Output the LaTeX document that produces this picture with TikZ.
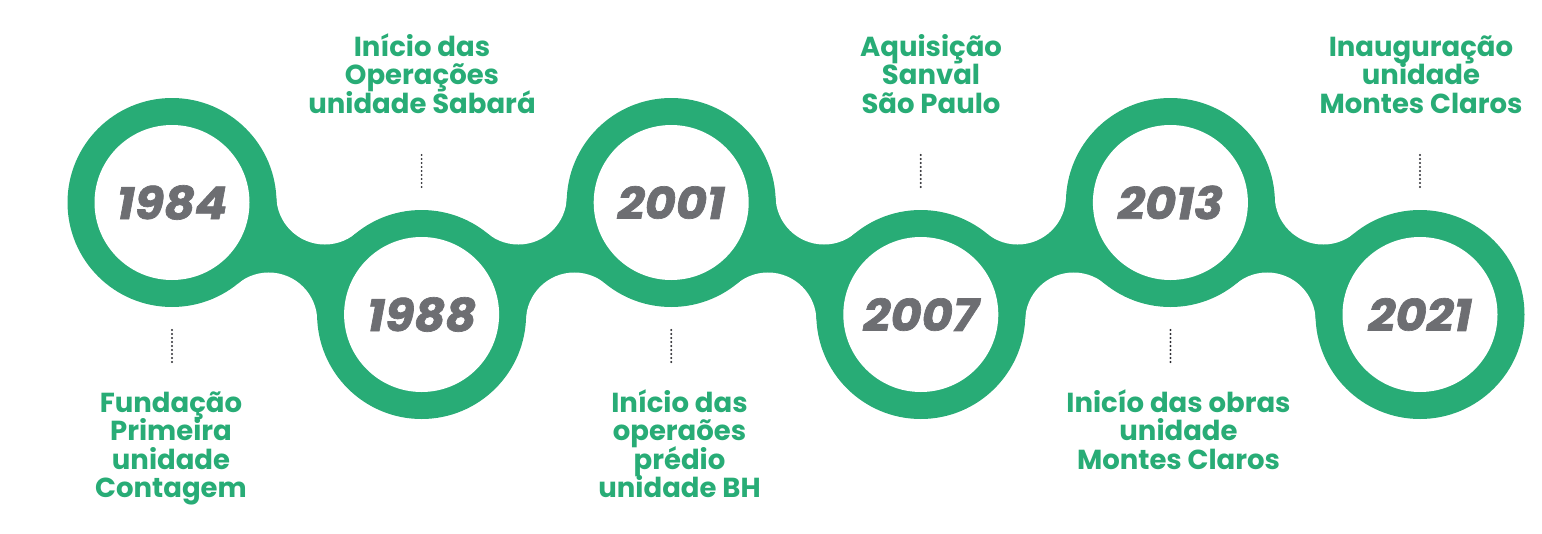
\documentclass[tikz,border=0pt]{standalone}
\usepackage{fontspec}
\setmainfont{Poppins}
\newfontfamily\yearfont{Poppins}[BoldItalicFeatures={FakeBold=1.5,FakeStretch=1.06}]
\usetikzlibrary{calc}
\definecolor{tlgreen}{RGB}{40,172,118}
\definecolor{tlgray}{RGB}{109,110,114}
\definecolor{dotgray}{RGB}{45,45,50}
\newcommand\evtfont{\fontsize{27.5}{28.5}\selectfont\bfseries\lineskiplimit -50pt\relax}
\begin{document}
\begin{tikzpicture}[x=1pt,y=1pt,
  year/.style={font=\yearfont\fontsize{45}{45}\selectfont\bfseries\itshape, text=tlgray, inner sep=0pt},
  evtlabel/.style={font=\evtfont, text=tlgreen, align=center, inner sep=0pt, anchor=base},
  dots/.style={draw=dotgray, line width=2.2pt, line cap=round, dash pattern=on 0pt off 4pt}
]
\useasboundingbox (0,0) rectangle (1542,-533);
\coordinate (c1) at (172,-202.5);
\coordinate (c2) at (421.6,-314.5);
\coordinate (c3) at (671.2,-202.5);
\coordinate (c4) at (920.8,-314.5);
\coordinate (c5) at (1170.4,-202.5);
\coordinate (c6) at (1420,-314.5);
% connecting bands
\foreach \a/\b in {c1/c2,c2/c3,c3/c4,c4/c5,c5/c6} {
  \coordinate (m-\a) at ($(\a)!0.5!(\b)$);
  \coordinate (fu-\a) at ($(m-\a)!68.5pt!90:(\b)$);
  \coordinate (fl-\a) at ($(m-\a)!68.5pt!-90:(\b)$);
  \fill[tlgreen] (\a) -- (fu-\a) -- (\b) -- (fl-\a) -- cycle;
  \fill[white] (fu-\a) circle[radius=48.5] (fl-\a) circle[radius=48.5];
}
% rings and years
\foreach \c/\y in {c1/1984,c2/1988,c3/2001,c4/2007,c5/2013,c6/2021} {
  \fill[tlgreen] (\c) circle[radius=104.5];
  \fill[white] (\c) circle[radius=77.5];
  \node[year] (y-\c) at (\c) {\y};
}
% dotted leaders
\foreach \c in {c2,c4,c6} {
  \coordinate (da-\c) at ($(\c)+(0,159.5)$);
  \coordinate (db-\c) at ($(\c)+(0,127.5)$);
  \draw[dots] (da-\c) -- (db-\c);
}
\foreach \c in {c1,c3,c5} {
  \coordinate (da-\c) at ($(\c)+(0,-127.5)$);
  \coordinate (db-\c) at ($(\c)+(0,-159.5)$);
  \draw[dots] (da-\c) -- (db-\c);
}
% labels (base anchor = baseline of the last line)
\node[evtlabel] (t2) at (422,-113) {Início das\\Operações\\unidade Sabará};
\node[evtlabel] (t4) at (931,-113) {Aquisição\\Sanval\\São Paulo};
\node[evtlabel] (t6) at (1421,-113) {Inauguração\\unidade\\Montes Claros};
\node[evtlabel] (t1) at (171,-497.5) {Fundação\\Primeira\\unidade\\Contagem};
\node[evtlabel] (t3) at (679.5,-497.5) {Início das\\operaões\\prédio\\unidade BH};
\node[evtlabel] (t5) at (1178.5,-469) {Inicío das obras\\unidade\\Montes Claros};
\end{tikzpicture}
\end{document}
